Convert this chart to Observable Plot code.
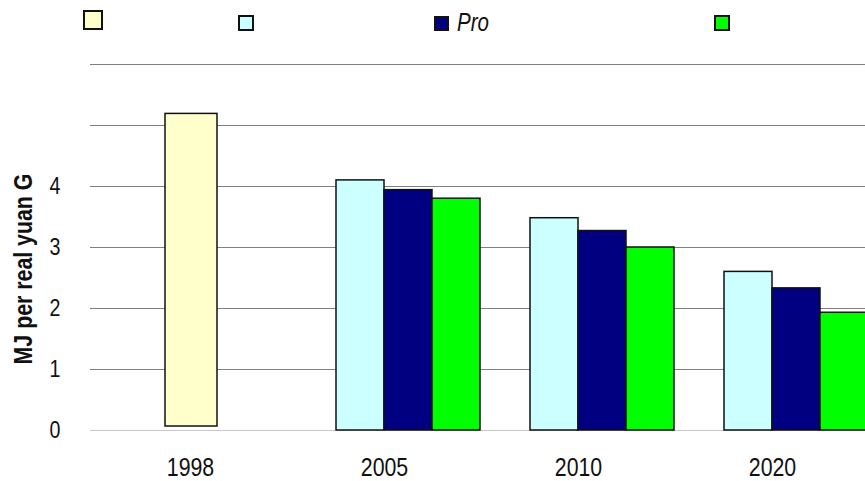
<!DOCTYPE html>
<html><head><meta charset="utf-8">
<script src="https://cdn.jsdelivr.net/npm/d3@7"></script>
<script src="https://cdn.jsdelivr.net/npm/@observablehq/plot@0.6"></script>
<style>
html,body{margin:0;padding:0;overflow:hidden;background:#fff;width:865px;height:481px}
#legend{position:relative;width:865px;height:40px;font-family:"Liberation Sans",Arial,sans-serif}
.sw{position:absolute;box-sizing:border-box;border:2px solid #111}
.lab{position:absolute;font-style:italic;font-size:25px;line-height:25px;color:#111;white-space:nowrap;transform:scaleX(0.82);transform-origin:0 0}
#chart svg{max-width:none !important;display:block}
</style></head><body>
<div id="legend"></div>
<div id="chart"></div>
<script>
// ---- data ----
const years = ["1998", "2005", "2010", "2020"];
const scenarioYears = ["2005", "2010", "2020"];
const series = ["s1998", "s2", "Pro", "s4"];
const legendLabels = ["", "", "Pro", ""];
const colors = ["#FFFFCC", "#CCFFFF", "#000080", "#00FF00"];
const value1998 = [5.19];
const valuesS2 = [4.10, 3.48, 2.60];
const valuesPro = [3.94, 3.27, 2.33];
const valuesS4 = [3.80, 3.00, 1.93];
const yTickLabels = [0, 1, 2, 3, 4];
const gridValues = [1, 2, 3, 4, 5, 6];
const yTitle = "MJ per real yuan G";

const FONT = '"Liberation Sans",Arial,sans-serif';
const NARROW = 0.82;

const rows = [];
scenarioYears.forEach((yr, i) => {
  rows.push({year: yr, series: series[1], value: valuesS2[i]});
  rows.push({year: yr, series: series[2], value: valuesPro[i]});
  rows.push({year: yr, series: series[3], value: valuesS4[i]});
});
const rows1998 = value1998.map(v => ({year: years[0], value: v}));

// ---- legend ----
const legend = document.getElementById("legend");
const legendLayout = [
  {left: 83, top: 10, size: 20},
  {left: 238, top: 15, size: 16},
  {left: 434, top: 16, size: 15},
  {left: 714, top: 15, size: 16}
];
series.forEach((s, i) => {
  const L = legendLayout[i];
  const sw = document.createElement("div");
  sw.className = "sw";
  sw.style.left = L.left + "px"; sw.style.top = L.top + "px";
  sw.style.width = L.size + "px"; sw.style.height = L.size + "px";
  sw.style.background = colors[i];
  legend.appendChild(sw);
  if (legendLabels[i]) {
    const t = document.createElement("div");
    t.className = "lab";
    t.textContent = legendLabels[i];
    t.style.left = (L.left + L.size + 8) + "px";
    t.style.top = "9.5px";
    legend.appendChild(t);
  }
});

// ---- chart ----
const chart = Plot.plot({
  width: 870,
  height: 441,
  marginLeft: 91,
  marginRight: 0,
  marginTop: 24,
  marginBottom: 51,
  style: {fontFamily: FONT, color: "#111", background: "transparent", overflow: "visible"},
  fx: {domain: years, padding: 0, label: null},
  x: {domain: series, padding: 0, axis: null},
  y: {domain: [0, 6]},
  color: {domain: series, range: colors},
  marks: [
    Plot.ruleY(gridValues, {stroke: "#808080", strokeWidth: 1, insetLeft: -3}),
    Plot.ruleY([0], {stroke: "#c8c8c8", strokeWidth: 1, insetLeft: -3}),
    Plot.barY(rows1998, {fx: "year", y: "value", fill: colors[0], stroke: "#111", strokeWidth: 1.5, insetLeft: 72, insetRight: 70, insetBottom: 4}),
    Plot.barY(rows, {fx: "year", x: "series", y: "value", fill: "series", stroke: "#111", strokeWidth: 1.5}),
    Plot.axisY(yTickLabels, {tickSize: 0, tickPadding: 33, fontSize: 24, tickFormat: d => String(d), label: null}),
    Plot.axisFx({anchor: "bottom", tickSize: 0, tickPadding: 27, fontSize: 26, label: null}),
    Plot.text([yTitle], {fx: [years[0]], frameAnchor: "left", rotate: -90, fontWeight: "bold", fontSize: 26, fill: "#111"})
  ]
});
document.getElementById("chart").appendChild(chart);

// narrow-font look (Arial Narrow style) by compressing real text
let titleEl = null;
chart.querySelectorAll("text").forEach(el => {
  const len = el.getComputedTextLength();
  if (len > 0) {
    el.setAttribute("textLength", (len * NARROW).toFixed(2));
    el.setAttribute("lengthAdjust", "spacingAndGlyphs");
  }
  if (el.textContent === yTitle) titleEl = el;
});
// place the rotated axis title: centre of its box at page (22.5, 269)
if (titleEl) {
  titleEl.setAttribute("transform", "translate(23.5,229) rotate(-90)");
  const r = titleEl.getBoundingClientRect();
  const ddx = 22.5 - (r.left + r.width / 2);
  const ddy = 269 - (r.top + r.height / 2);
  titleEl.setAttribute("transform", `translate(${23.5 + ddx},${229 + ddy}) rotate(-90)`);
}
</script>
</body></html>
